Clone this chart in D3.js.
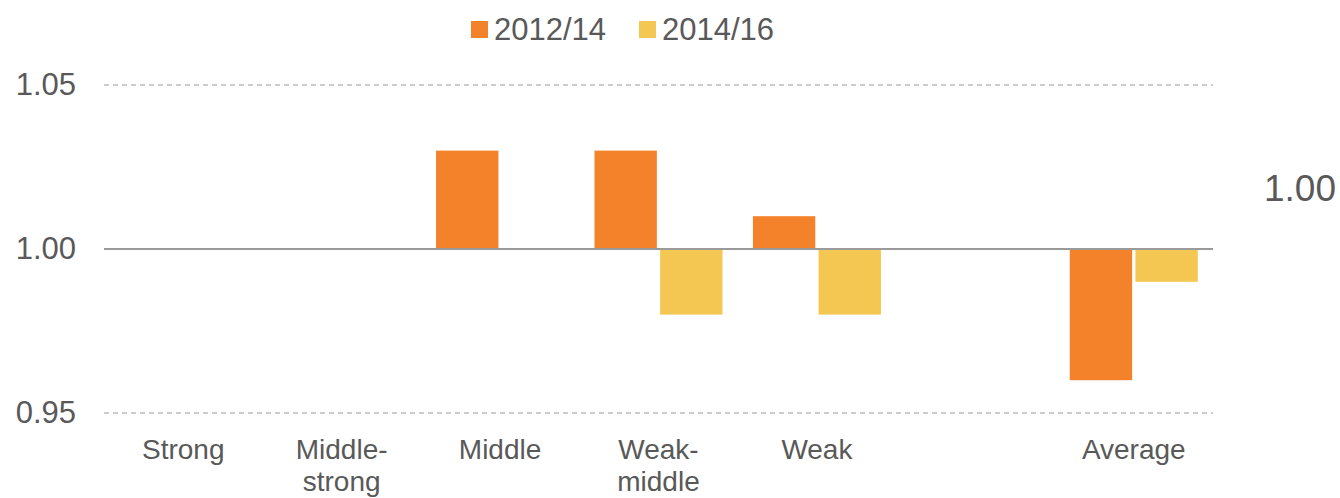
<!DOCTYPE html>
<html>
<head>
<meta charset="utf-8">
<script src="https://cdn.jsdelivr.net/npm/d3@7"></script>
<style>
  html, body { margin: 0; padding: 0; background: #fff; }
  svg { display: block; font-family: "Liberation Sans", Arial, sans-serif; }
</style>
</head>
<body>
<svg id="chart" width="1340" height="498"></svg>
<script>
const categories = ["Strong", "Middle-strong", "Middle", "Weak-middle", "Weak", "", "Average"];
const categoryLines = [["Strong"], ["Middle-", "strong"], ["Middle"], ["Weak-", "middle"], ["Weak"], [""], ["Average"]];
const seriesNames = ["2012/14", "2014/16"];
const values2012 = [1.00, 1.00, 1.03, 1.03, 1.01, null, 0.96];
const values2014 = [1.00, 1.00, 1.00, 0.98, 0.98, null, 0.99];
const yTicks = [0.95, 1.00, 1.05];
const sideLabel = "1.00";

(function () {
const colors = { "2012/14": "#F4822A", "2014/16": "#F3C751" };
const textColor = "#595959";

const svg = d3.select("#chart");
const plotLeft = 104, plotRight = 1213, plotTop = 85, plotBottom = 413;

const x = d3.scaleBand().domain(categories.map((c, i) => i)).range([plotLeft, plotRight]).padding(0);
const xInner = d3.scaleBand().domain(seriesNames).range([-64, 64]).paddingInner(0.05);
const y = d3.scaleLinear().domain([0.95, 1.05]).range([plotBottom, plotTop]);

// tick labels
const yAxis = d3.axisLeft(y).tickValues(yTicks).tickFormat(d3.format(".2f")).tickSize(0).tickPadding(28);
const gy = svg.append("g").attr("transform", `translate(${plotLeft},0)`).call(yAxis);
gy.select(".domain").remove();
gy.selectAll("text").attr("fill", textColor).style("font-size", "31px")
  .attr("font-family", "Liberation Sans, Arial, sans-serif");

// dashed gridlines
svg.append("g").selectAll("line").data(yTicks.filter(t => t !== 1.00)).join("line")
  .attr("x1", plotLeft).attr("x2", plotRight)
  .attr("y1", d => y(d)).attr("y2", d => y(d))
  .attr("stroke", "#999999").attr("stroke-width", 1).attr("stroke-dasharray", "5,4");

// bars
const rows = categories.map((c, i) => ({ i, vals: [values2012[i], values2014[i]] }));
const barG = svg.append("g");
rows.forEach(r => {
  seriesNames.forEach((s, k) => {
    const v = r.vals[k];
    if (v == null) return;
    const cx = x(r.i) + x.bandwidth() / 2;
    barG.append("rect")
      .attr("x", cx + xInner(s))
      .attr("width", xInner.bandwidth())
      .attr("y", Math.min(y(v), y(1)))
      .attr("height", Math.abs(y(v) - y(1)))
      .attr("fill", colors[s]);
  });
});

// baseline at 1.00
svg.append("line").attr("x1", plotLeft).attr("x2", plotRight)
  .attr("y1", y(1)).attr("y2", y(1))
  .attr("stroke", "#9A9A9A").attr("stroke-width", 2);

// category labels
const catG = svg.append("g");
categories.forEach((c, i) => {
  const cx = x(i) + x.bandwidth() / 2;
  const t = catG.append("text")
    .attr("x", cx)
    .attr("y", 459)
    .attr("text-anchor", "middle")
    .attr("fill", textColor)
    .style("font-size", "28px");
  categoryLines[i].forEach((line, j) => {
    t.append("tspan").attr("x", cx).attr("dy", j === 0 ? 0 : 32).text(line);
  });
});

// legend
const legendX = [471, 639];
seriesNames.forEach((s, k) => {
  const g = svg.append("g").attr("transform", `translate(${legendX[k]},0)`);
  g.append("rect").attr("x", 0).attr("y", 21).attr("width", 17).attr("height", 17).attr("fill", colors[s]);
  g.append("text").attr("x", 23).attr("y", 40).attr("fill", textColor).style("font-size", "31px").text(s);
});

// side label
svg.append("text").attr("x", 1336).attr("y", 201).attr("text-anchor", "end")
  .attr("fill", textColor).style("font-size", "37px").text(sideLabel);
})();
</script>
</body>
</html>
